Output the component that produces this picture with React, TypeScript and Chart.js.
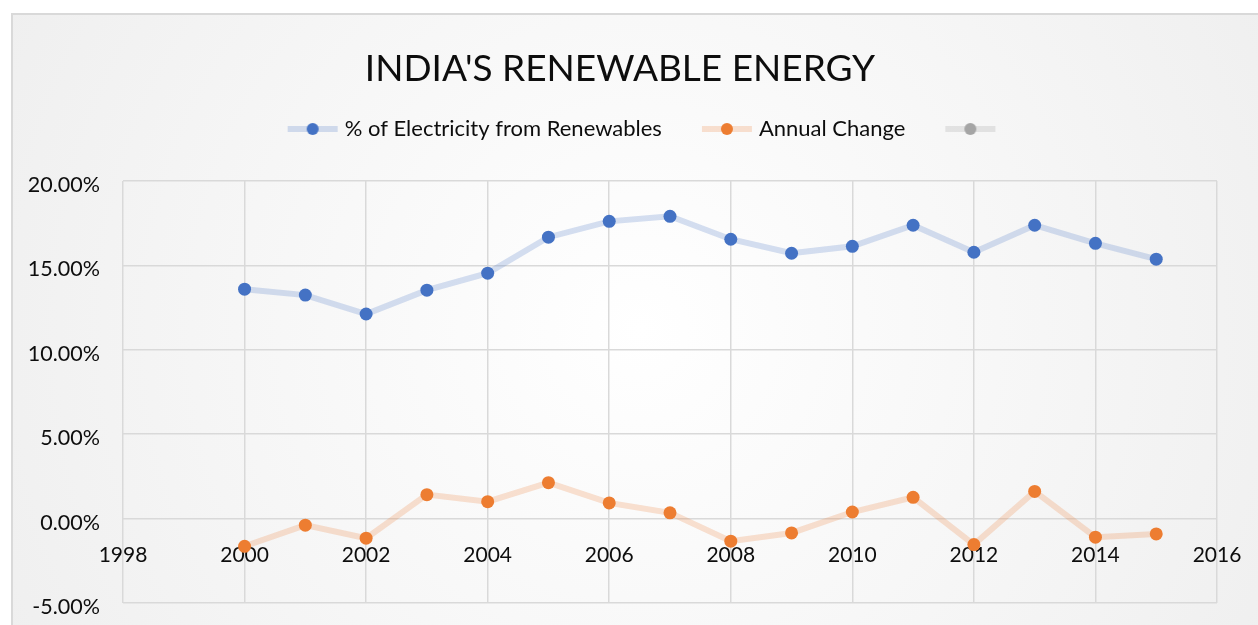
import { useEffect, useRef } from 'react';
import { Chart, registerables } from 'chart.js';

Chart.register(...registerables);

const titleText = "INDIA'S RENEWABLE ENERGY";
const years = [2000, 2001, 2002, 2003, 2004, 2005, 2006, 2007, 2008, 2009, 2010, 2011, 2012, 2013, 2014, 2015];
const renewablesShare = [13.59, 13.24, 12.12, 13.53, 14.54, 16.67, 17.61, 17.91, 16.55, 15.72, 16.13, 17.38, 15.78, 17.38, 16.31, 15.37];
const annualChange = [-1.64, -0.39, -1.16, 1.42, 1.0, 2.13, 0.93, 0.34, -1.34, -0.85, 0.39, 1.26, -1.54, 1.61, -1.1, -0.91];
const seriesNames = ['% of Electricity from Renewables', 'Annual Change', ''];
const xMin = 1998;
const xMax = 2016;
const xStep = 2;
const yMin = -5;
const yMax = 20;
const yStep = 5;

const FONT = 'Lato';
const TEXT = '#0d0d0d';
const GRID = '#d9d9d9';

const pointColors = ['#4472C4', '#ED7D31', '#A5A5A5'];
const lineColors = ['rgba(68,114,196,0.22)', 'rgba(237,125,49,0.22)', 'rgba(165,165,165,0.25)'];

function makeIcon(lineColor: string, dotColor: string) {
  const c = document.createElement('canvas');
  c.width = 88;
  c.height = 14;
  const ctx = c.getContext('2d')!;
  ctx.strokeStyle = lineColor;
  ctx.lineWidth = 6;
  ctx.beginPath();
  ctx.moveTo(36, 7);
  ctx.lineTo(86, 7);
  ctx.stroke();
  ctx.fillStyle = dotColor;
  ctx.beginPath();
  ctx.arc(61, 7, 6, 0, Math.PI * 2);
  ctx.fill();
  return c;
}

const backgroundPlugin = {
  id: 'bgPanel',
  beforeDraw(chart: any) {
    const { ctx, width, height } = chart;
    ctx.save();
    ctx.fillStyle = '#ffffff';
    ctx.fillRect(0, 0, width, height);
    const g = ctx.createRadialGradient(640, 330, 0, 640, 330, 760);
    g.addColorStop(0, '#ffffff');
    g.addColorStop(1, '#eeeeee');
    ctx.fillStyle = g;
    ctx.fillRect(11, 13, width, height);
    ctx.strokeStyle = '#d9d9d9';
    ctx.lineWidth = 2;
    ctx.strokeRect(12, 14, width + 10, height + 10);
    ctx.restore();
  },
};

const legendShiftPlugin = {
  id: 'legendShift',
  afterLayout(chart: any) {
    const lg = chart.legend;
    if (!lg) return;
    const dx = 10;
    const dy = -31;
    lg.left += dx;
    lg.right += dx;
    lg.top += dy;
    lg.bottom += dy;
  },
};

export default function App() {
  const ref = useRef<HTMLCanvasElement>(null);

  useEffect(() => {
    if (!ref.current) return;
    const icons = pointColors.map((c, i) => makeIcon(lineColors[i], c));
    const seriesData = [renewablesShare, annualChange, [] as number[]];
    const chart = new Chart(ref.current, {
      type: 'line',
      data: {
        datasets: seriesData.map((vals, i) => ({
          label: seriesNames[i],
          data: vals.map((v, j) => ({ x: years[j], y: v })),
          borderColor: lineColors[i],
          backgroundColor: pointColors[i],
          pointBackgroundColor: pointColors[i],
          pointBorderColor: pointColors[i],
          pointBorderWidth: 0,
          pointRadius: 6.5,
          borderWidth: 6,
          tension: 0,
          fill: false,
        })),
      },
      options: {
        animation: false,
        responsive: false,
        layout: { padding: { left: 23, right: 41, top: 0, bottom: 22 } },
        plugins: {
          title: {
            display: true,
            text: titleText,
            color: TEXT,
            font: { family: FONT, size: 37, weight: 'normal' },
            padding: { top: 47, bottom: 47.6 },
          },
          legend: {
            display: true,
            labels: {
              usePointStyle: true,
              pointStyleWidth: 76,
              padding: 10,
              color: TEXT,
              font: { family: FONT, size: 22 },
              generateLabels: (ch: any) => {
                const items = (Chart.defaults.plugins.legend.labels as any).generateLabels(ch);
                return items.map((it: any, i: number) => ({ ...it, pointStyle: icons[i] }));
              },
            },
          },
          tooltip: { enabled: false },
        },
        scales: {
          x: {
            type: 'linear',
            position: { y: 0 } as any,
            min: xMin,
            max: xMax,
            ticks: {
              stepSize: xStep,
              callback: (v: any) => String(v),
              padding: 24,
              color: TEXT,
              font: { family: FONT, size: 21 },
              maxRotation: 0,
              autoSkip: false,
            },
            grid: { color: GRID, lineWidth: 1.5, drawTicks: false },
            border: { display: false },
            afterFit: (s: any) => {
              s.height = 0;
              s.paddingLeft = 0;
              s.paddingRight = 0;
            },
          },
          y: {
            type: 'linear',
            min: yMin,
            max: yMax,
            ticks: {
              stepSize: yStep,
              callback: (v: any) => Number(v).toFixed(2) + '%',
              padding: 23,
              labelOffset: 4,
              color: TEXT,
              font: { family: FONT, size: 21.5 },
            },
            grid: { color: GRID, lineWidth: 1.5, drawTicks: false },
            border: { display: false },
            afterFit: (s: any) => {
              s.width = 100;
              s.paddingTop = 0;
              s.paddingBottom = 0;
            },
          },
        },
      },
      plugins: [backgroundPlugin, legendShiftPlugin],
    } as any);
    return () => chart.destroy();
  }, []);

  return (
    <div style={{ position: 'fixed', left: 0, top: 0, width: 1258, height: 625, overflow: 'hidden' }}>
      <canvas ref={ref} width={1258} height={625} style={{ display: 'block' }} />
    </div>
  );
}
